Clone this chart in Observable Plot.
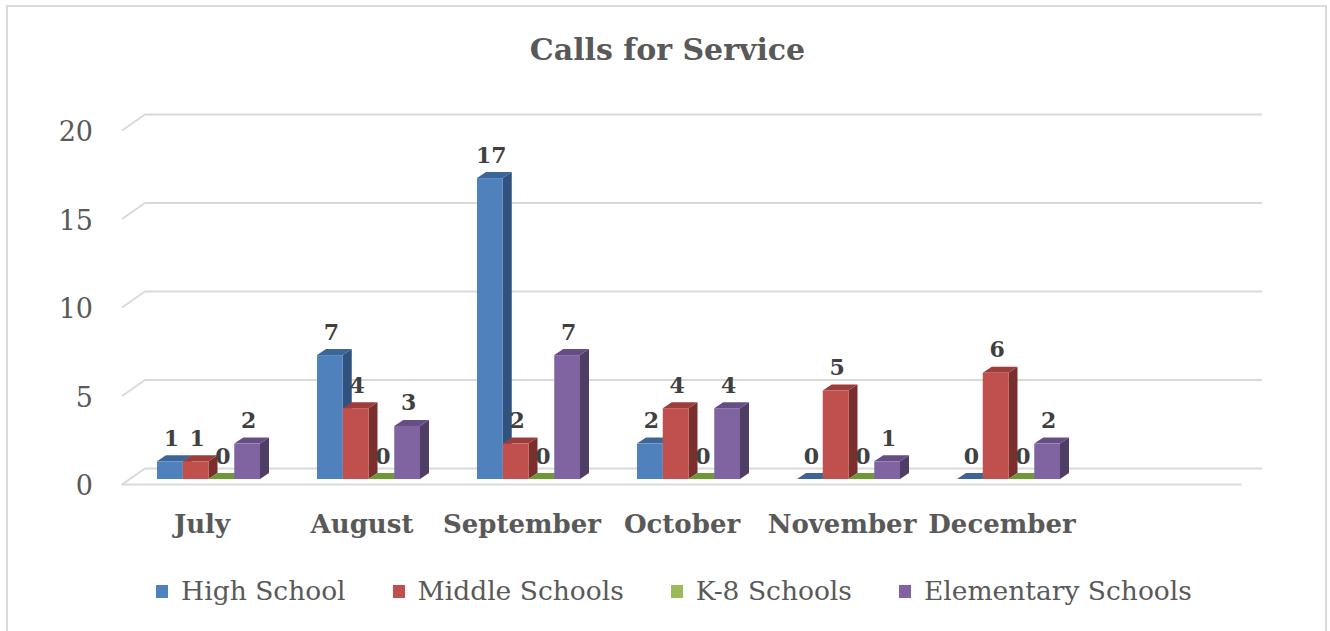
<!DOCTYPE html>
<html>
<head>
<meta charset="utf-8">
<script src="https://cdn.jsdelivr.net/npm/d3@7"></script>
<script src="https://cdn.jsdelivr.net/npm/@observablehq/plot@0.6"></script>
<style>
  html, body { margin: 0; padding: 0; background: #fff; }
  #wrap { position: relative; width: 1330px; height: 631px; overflow: hidden; background: #fff; }
  #border { position: absolute; left: 6px; top: 5px; width: 1321px; height: 640px; border: 2px solid #d9d9d9; box-sizing: border-box; }
  #title { position: absolute; left: 0; top: 30px; width: 1335px; text-align: center; font-family: "DejaVu Serif", serif; font-weight: bold; font-size: 30px; line-height: 40px; color: #595959; }
  #chart { position: absolute; left: 0; top: 85px; }
  #legend { position: absolute; left: 0; top: 573px; width: 1348px; display: flex; justify-content: center; gap: 47px; font-family: "DejaVu Serif", serif; font-size: 26.5px; line-height: 36px; color: #595959; }
  .item { display: flex; align-items: center; }
  .sw { width: 12px; height: 13px; margin-right: 13px; }
</style>
</head>
<body>
<div id="wrap">
  <div id="border"></div>
  <div id="title">Calls for Service</div>
  <div id="chart"></div>
  <div id="legend"></div>
</div>
<script>
// ---- data ----
const months = ["July", "August", "September", "October", "November", "December"];
const series = ["High School", "Middle Schools", "K-8 Schools", "Elementary Schools"];
const highSchool = [1, 7, 17, 2, 0, 0];
const middleSchools = [1, 4, 2, 4, 5, 6];
const k8Schools = [0, 0, 0, 0, 0, 0];
const elementarySchools = [2, 3, 7, 4, 1, 2];
const yTicks = [0, 5, 10, 15, 20];

// ---- styles ----
const frontColors = ["#4F81BD", "#C0504D", "#9BBB59", "#8064A2"];
const topColors = ["#3D6698", "#9C3D3B", "#6E9A36", "#654E84"];
const sideColors = ["#30527F", "#7B2F2D", "#5A7C2E", "#4F3D66"];

// pixel -> data unit conversions (x: 160px per category, y: 354px per 20)
const PX = 1 / 160, PY = 20 / 354;
const W = 25.75 * PX;            // bar width
const DX = 9 * PX, DY = 6 * PY;  // bar depth
const BX = 16 * PX, BY = 11 * PY; // back wall offset
const FX = -7 * PX, FY = -5 * PY; // front floor offset

const valuesBySeries = [highSchool, middleSchools, k8Schools, elementarySchools];
const bars = [];
months.forEach((m, i) => valuesBySeries.forEach((vals, j) => {
  bars.push({id: i * 4 + j, i, j, month: m, series: series[j], value: vals[i],
    x1: i + (j - 2) * W, x2: i + (j - 1) * W});
}));
const sideData = bars.flatMap(b => [
  {id: b.id, j: b.j, x: b.x2, y1: 0, y2: b.value},
  {id: b.id, j: b.j, x: b.x2 + DX, y1: DY, y2: b.value + DY}
]);
const topData = bars.flatMap(b => [
  {id: b.id, j: b.j, y: b.value, x1: b.x1, x2: b.x2},
  {id: b.id, j: b.j, y: b.value + DY, x1: b.x1 + DX, x2: b.x2 + DX}
]);

const grid = "#d9d9d9";
const chart = Plot.plot({
  width: 1330,
  height: 475,
  marginLeft: 128.5,
  marginRight: 81.5,
  marginTop: 40,
  marginBottom: 81,
  style: {fontFamily: "DejaVu Serif, serif", background: "transparent", overflow: "visible"},
  x: {domain: [-0.5, 6.5], axis: null},
  y: {domain: [0, 20], axis: null},
  color: {type: "identity"},
  marks: [
    Plot.ruleY(yTicks, {y: d => d + BY, x1: -0.5 + BX, x2: 6.5 + 13.5 * PX, stroke: grid, strokeWidth: 2}),
    Plot.link(yTicks, {x1: -0.5 + FX, y1: d => d + FY, x2: -0.5 + BX, y2: d => d + BY, stroke: grid, strokeWidth: 2}),
    Plot.ruleY([0], {y: FY, x1: -0.5 + FX, x2: 6.5 + FX, stroke: grid, strokeWidth: 2}),
    Plot.areaY(sideData, {x: "x", y1: "y1", y2: "y2", z: "id", fill: d => sideColors[d.j]}),
    Plot.areaX(topData, {y: "y", x1: "x1", x2: "x2", z: "id", fill: d => topColors[d.j]}),
    Plot.rect(bars, {x1: "x1", x2: "x2", y1: 0, y2: "value", fill: d => frontColors[d.j]}),
    Plot.text(bars, {x: d => (d.x1 + d.x2) / 2 + 1 * PX, y: "value", text: d => String(d.value), dy: -23,
      fontSize: 22, fontWeight: "bold", fill: "#404040"}),
    Plot.axisY(yTicks, {tickSize: 0, tickPadding: 36, dy: 7, fontSize: 27, color: "#595959", fill: "#595959"}),
    Plot.axisX(d3.range(months.length), {tickFormat: i => months[i], tickSize: 0, tickPadding: 35, dx: -7,
      fontSize: 26, fontWeight: "bold", color: "#595959", fill: "#595959"})
  ]
});
document.getElementById("chart").appendChild(chart);

const legend = document.getElementById("legend");
series.forEach((s, j) => {
  const it = document.createElement("div");
  it.className = "item";
  it.innerHTML = `<span class="sw" style="background:${frontColors[j]}"></span><span>${s}</span>`;
  legend.appendChild(it);
});
</script>
</body>
</html>
